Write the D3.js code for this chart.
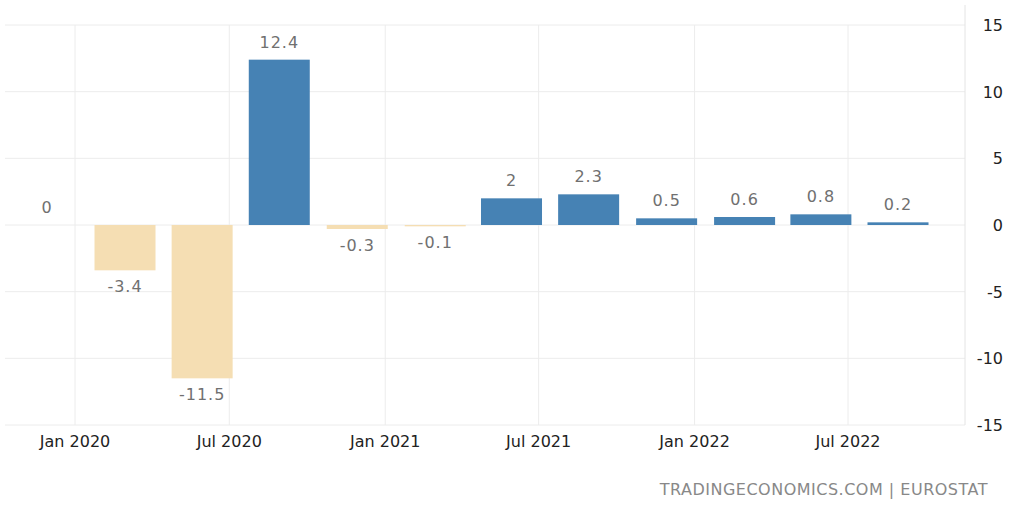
<!DOCTYPE html><html><head><meta charset="utf-8">
<script src="https://cdn.jsdelivr.net/npm/d3@7"></script>
<style>body{margin:0;background:#fff}svg{font-family:"DejaVu Sans",sans-serif}</style></head><body>
<svg id="c" width="1018" height="509"></svg>
<script>
const quarters=["2019-10-01","2020-01-01","2020-04-01","2020-07-01","2020-10-01","2021-01-01","2021-04-01","2021-07-01","2021-10-01","2022-01-01","2022-04-01","2022-07-01"];
const values=[0,-3.4,-11.5,12.4,-0.3,-0.1,2,2.3,0.5,0.6,0.8,0.2];
const xTicks=["2020-01-01","2020-07-01","2021-01-01","2021-07-01","2022-01-01","2022-07-01"];
const xTickLabels=["Jan 2020","Jul 2020","Jan 2021","Jul 2021","Jan 2022","Jul 2022"];
const yTicks=[15,10,5,0,-5,-10,-15];
const svg=d3.select("#c");
const p=d3.timeParse("%Y-%m-%d");
const x=d3.scaleTime().domain([p("2020-01-01"),p("2022-07-01")]).range([75,848]);
const y=d3.scaleLinear().domain([-15,15]).range([425,25]);
const bw=61;
svg.append("g").selectAll("line").data(yTicks).join("line")
 .attr("x1",5).attr("x2",965).attr("y1",d=>y(d)).attr("y2",d=>y(d)).attr("stroke","#ececec");
svg.append("g").selectAll("line").data(xTicks).join("line")
 .attr("x1",d=>x(p(d))).attr("x2",d=>x(p(d))).attr("y1",25).attr("y2",425).attr("stroke","#ececec");
svg.append("line").attr("x1",965).attr("x2",965).attr("y1",5).attr("y2",425).attr("stroke","#e4e4e4");
svg.append("g").selectAll("text").data(yTicks).join("text")
 .attr("x",1003).attr("y",d=>y(d)+6).attr("text-anchor","end").attr("font-size",16).attr("fill","#222").text(d=>d);
svg.append("g").selectAll("text").data(xTicks).join("text")
 .attr("x",d=>x(p(d))).attr("y",447).attr("text-anchor","middle").attr("font-size",16).attr("fill","#222").text((d,i)=>xTickLabels[i]);
const cx=d=>x(d3.timeDay.offset(p(d),59));
const data=quarters.map((q,i)=>({q,v:values[i]}));
svg.append("g").selectAll("rect").data(data).join("rect")
 .attr("x",d=>cx(d.q)-bw/2).attr("width",bw)
 .attr("y",d=>y(Math.max(0,d.v))).attr("height",d=>Math.abs(y(d.v)-y(0)))
 .attr("fill",d=>d.v>0?"#4682b4":"#f5deb3");
svg.append("g").selectAll("text").data(data).join("text")
 .attr("x",d=>cx(d.q)).attr("y",d=>d.v<0?y(d.v)+22:y(d.v)-12)
 .attr("text-anchor","middle").attr("font-size",16).attr("fill","#707070").attr("letter-spacing",1).text(d=>d.v);
svg.append("text").attr("x",988).attr("y",495).attr("text-anchor","end").attr("font-size",16).attr("fill","#888").attr("letter-spacing",0.5).text("TRADINGECONOMICS.COM | EUROSTAT");
</script></body></html>
